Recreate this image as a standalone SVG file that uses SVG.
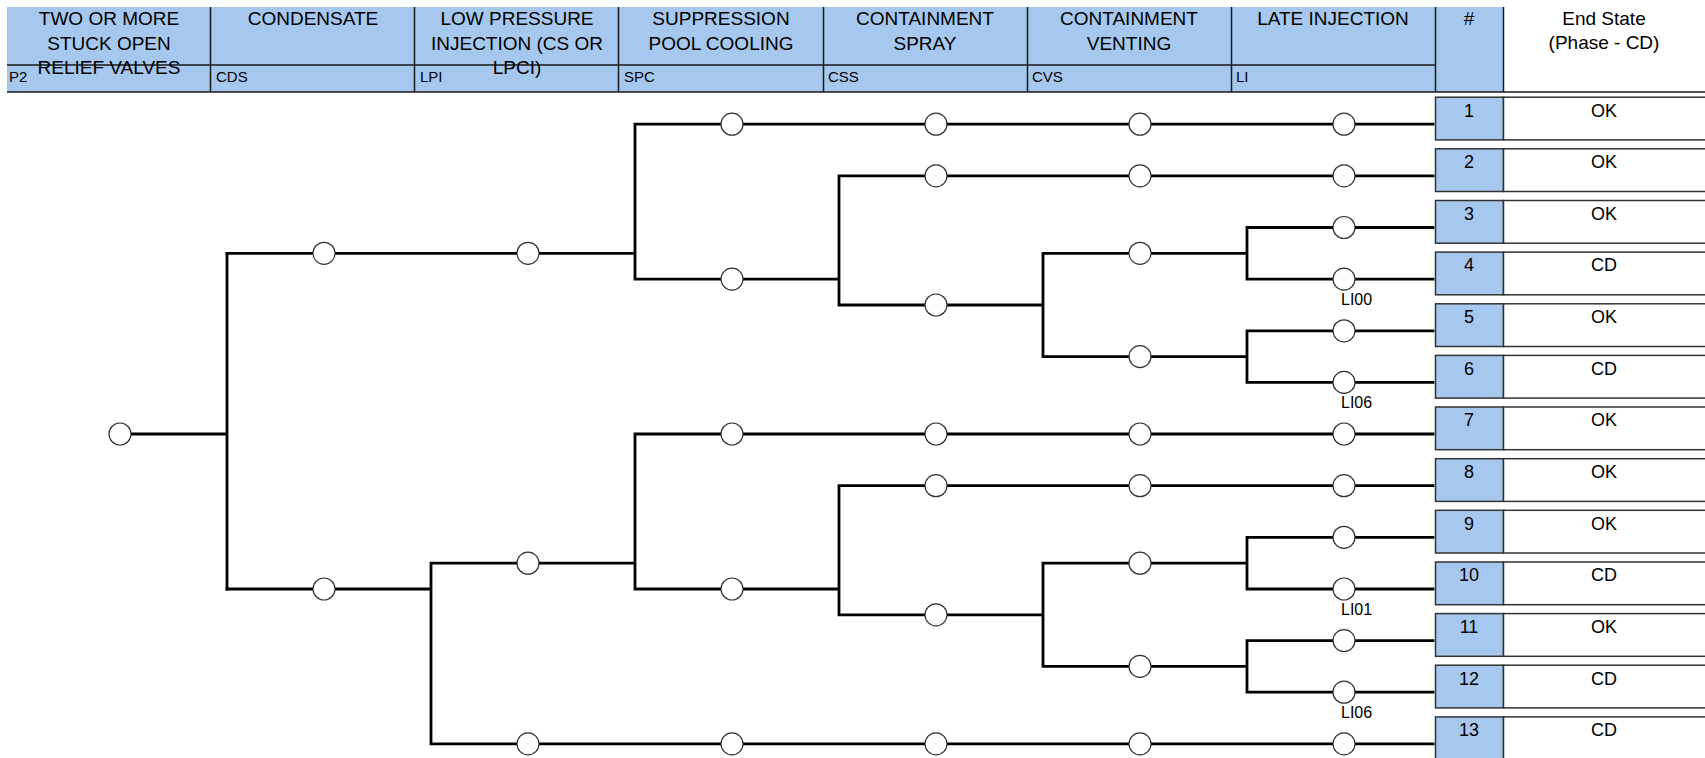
<svg xmlns="http://www.w3.org/2000/svg" width="1705" height="758" viewBox="0 0 1705 758">
<style>
text{font-family:"Liberation Sans",Arial,sans-serif;fill:#000}
.h{font-size:19px;text-anchor:middle}
.es{font-size:19px;text-anchor:middle}
.s{font-size:15px}
.r{font-size:18px;text-anchor:middle}
.lb{font-size:16px}
.hl{stroke:#1a1a1a;stroke-width:1.5;fill:none}
.num{fill:#A6C8EE;stroke:#333;stroke-width:1.5}
.st{fill:#fff;stroke:#333;stroke-width:1.5}
.tree path{stroke:#000;stroke-width:2.8;fill:none;stroke-linecap:square}
.n{fill:#fff;stroke:#333;stroke-width:1.2}
</style>
<defs>
<circle id="c" r="11" class="n"/>
</defs>
<rect width="1705" height="758" fill="#fff"/>
<g id="header">
<rect x="7" y="7" width="1496.5" height="85" fill="#A6C8EE"/>
<path class="hl" d="M210.5 7V92M414.5 7V92M618.5 7V92M823.5 7V92M1027.5 7V92M1231.5 7V92M1435.5 7V92M1503.5 7V92M7 65H1435.5M7 92H1705"/>
<text class="h" x="109" y="25">TWO OR MORE</text>
<text class="h" x="109" y="49.5">STUCK OPEN</text>
<text class="h" x="109" y="74">RELIEF VALVES</text>
<text class="h" x="313" y="25">CONDENSATE</text>
<text class="h" x="517" y="25">LOW PRESSURE</text>
<text class="h" x="517" y="49.5">INJECTION (CS OR</text>
<text class="h" x="517" y="74">LPCI)</text>
<text class="h" x="721" y="25">SUPPRESSION</text>
<text class="h" x="721" y="49.5">POOL COOLING</text>
<text class="h" x="925" y="25">CONTAINMENT</text>
<text class="h" x="925" y="49.5">SPRAY</text>
<text class="h" x="1129" y="25">CONTAINMENT</text>
<text class="h" x="1129" y="49.5">VENTING</text>
<text class="h" x="1333" y="25">LATE INJECTION</text>
<text class="s" x="9" y="82">P2</text>
<text class="s" x="216" y="82">CDS</text>
<text class="s" x="420" y="82">LPI</text>
<text class="s" x="624" y="82">SPC</text>
<text class="s" x="828" y="82">CSS</text>
<text class="s" x="1032" y="82">CVS</text>
<text class="s" x="1236" y="82">LI</text>
<text class="h" x="1469" y="25">#</text>
<text class="es" x="1604" y="25">End State</text>
<text class="es" x="1604" y="49">(Phase - CD)</text>
</g>
<g id="connectors" class="tree">
<path d="M120 434H227M227 253.3V589"/>
<path d="M227 253.3H635M635 124.2V279.1M635 124.2H1433M635 279.1H839M839 175.8V305M839 175.8H1433M839 305H1043M1043 253.3V356.6M1043 253.3H1247M1247 227.5V279.1M1247 227.5H1433M1247 279.1H1433M1043 356.6H1247M1247 330.8V382.4M1247 330.8H1433M1247 382.4H1433"/>
<path d="M227 589H431M431 563.2V743.9M431 563.2H635M635 434V589M635 434H1433M635 589H839M839 485.7V614.8M839 485.7H1433M839 614.8H1043M1043 563.2V666.4M1043 563.2H1247M1247 537.3V589M1247 537.3H1433M1247 589H1433M1043 666.4H1247M1247 640.6V692.2M1247 640.6H1433M1247 692.2H1433M431 743.9H1433"/>
</g>
<g id="nodes">
<g id="init"><use href="#c" x="120" y="434"/></g>
<g id="cds"><use href="#c" x="324" y="253.3"/><use href="#c" x="324" y="589"/></g>
<g id="lpi"><use href="#c" x="528" y="253.3"/><use href="#c" x="528" y="563.2"/><use href="#c" x="528" y="743.9"/></g>
<g id="spc"><use href="#c" x="732" y="124.2"/><use href="#c" x="732" y="279.1"/><use href="#c" x="732" y="434"/><use href="#c" x="732" y="589"/><use href="#c" x="732" y="743.9"/></g>
<g id="css"><use href="#c" x="936" y="124.2"/><use href="#c" x="936" y="175.8"/><use href="#c" x="936" y="305"/><use href="#c" x="936" y="434"/><use href="#c" x="936" y="485.7"/><use href="#c" x="936" y="614.8"/><use href="#c" x="936" y="743.9"/></g>
<g id="cvs"><use href="#c" x="1140" y="124.2"/><use href="#c" x="1140" y="175.8"/><use href="#c" x="1140" y="253.3"/><use href="#c" x="1140" y="356.6"/><use href="#c" x="1140" y="434"/><use href="#c" x="1140" y="485.7"/><use href="#c" x="1140" y="563.2"/><use href="#c" x="1140" y="666.4"/><use href="#c" x="1140" y="743.9"/></g>
<g id="li"><use href="#c" x="1344" y="124.2"/><use href="#c" x="1344" y="175.8"/><use href="#c" x="1344" y="227.5"/><use href="#c" x="1344" y="279.1"/><use href="#c" x="1344" y="330.8"/><use href="#c" x="1344" y="382.4"/><use href="#c" x="1344" y="434"/><use href="#c" x="1344" y="485.7"/><use href="#c" x="1344" y="537.3"/><use href="#c" x="1344" y="589"/><use href="#c" x="1344" y="640.6"/><use href="#c" x="1344" y="692.2"/><use href="#c" x="1344" y="743.9"/>
<text class="lb" x="1341" y="305">LI00</text>
<text class="lb" x="1341" y="408.4">LI06</text>
<text class="lb" x="1341" y="615">LI01</text>
<text class="lb" x="1341" y="718.2">LI06</text>
</g>
</g>
<g id="endstates">
<g id="row1"><rect class="num" x="1435.5" y="97.2" width="68" height="42.7"/><rect class="st" x="1503.5" y="97.2" width="220" height="42.7"/><text class="r" x="1469" y="116.5">1</text><text class="r" x="1604" y="116.5">OK</text></g>
<g id="row2"><rect class="num" x="1435.5" y="148.8" width="68" height="42.7"/><rect class="st" x="1503.5" y="148.8" width="220" height="42.7"/><text class="r" x="1469" y="168.1">2</text><text class="r" x="1604" y="168.1">OK</text></g>
<g id="row3"><rect class="num" x="1435.5" y="200.5" width="68" height="42.7"/><rect class="st" x="1503.5" y="200.5" width="220" height="42.7"/><text class="r" x="1469" y="219.8">3</text><text class="r" x="1604" y="219.8">OK</text></g>
<g id="row4"><rect class="num" x="1435.5" y="252.1" width="68" height="42.7"/><rect class="st" x="1503.5" y="252.1" width="220" height="42.7"/><text class="r" x="1469" y="271.4">4</text><text class="r" x="1604" y="271.4">CD</text></g>
<g id="row5"><rect class="num" x="1435.5" y="303.8" width="68" height="42.7"/><rect class="st" x="1503.5" y="303.8" width="220" height="42.7"/><text class="r" x="1469" y="323.1">5</text><text class="r" x="1604" y="323.1">OK</text></g>
<g id="row6"><rect class="num" x="1435.5" y="355.4" width="68" height="42.7"/><rect class="st" x="1503.5" y="355.4" width="220" height="42.7"/><text class="r" x="1469" y="374.7">6</text><text class="r" x="1604" y="374.7">CD</text></g>
<g id="row7"><rect class="num" x="1435.5" y="407" width="68" height="42.7"/><rect class="st" x="1503.5" y="407" width="220" height="42.7"/><text class="r" x="1469" y="426.3">7</text><text class="r" x="1604" y="426.3">OK</text></g>
<g id="row8"><rect class="num" x="1435.5" y="458.7" width="68" height="42.7"/><rect class="st" x="1503.5" y="458.7" width="220" height="42.7"/><text class="r" x="1469" y="478">8</text><text class="r" x="1604" y="478">OK</text></g>
<g id="row9"><rect class="num" x="1435.5" y="510.3" width="68" height="42.7"/><rect class="st" x="1503.5" y="510.3" width="220" height="42.7"/><text class="r" x="1469" y="529.6">9</text><text class="r" x="1604" y="529.6">OK</text></g>
<g id="row10"><rect class="num" x="1435.5" y="562" width="68" height="42.7"/><rect class="st" x="1503.5" y="562" width="220" height="42.7"/><text class="r" x="1469" y="581.3">10</text><text class="r" x="1604" y="581.3">CD</text></g>
<g id="row11"><rect class="num" x="1435.5" y="613.6" width="68" height="42.7"/><rect class="st" x="1503.5" y="613.6" width="220" height="42.7"/><text class="r" x="1469" y="632.9">11</text><text class="r" x="1604" y="632.9">OK</text></g>
<g id="row12"><rect class="num" x="1435.5" y="665.2" width="68" height="42.7"/><rect class="st" x="1503.5" y="665.2" width="220" height="42.7"/><text class="r" x="1469" y="684.5">12</text><text class="r" x="1604" y="684.5">CD</text></g>
<g id="row13"><rect class="num" x="1435.5" y="716.9" width="68" height="42.7"/><rect class="st" x="1503.5" y="716.9" width="220" height="42.7"/><text class="r" x="1469" y="736.2">13</text><text class="r" x="1604" y="736.2">CD</text></g>
</g>
</svg>
